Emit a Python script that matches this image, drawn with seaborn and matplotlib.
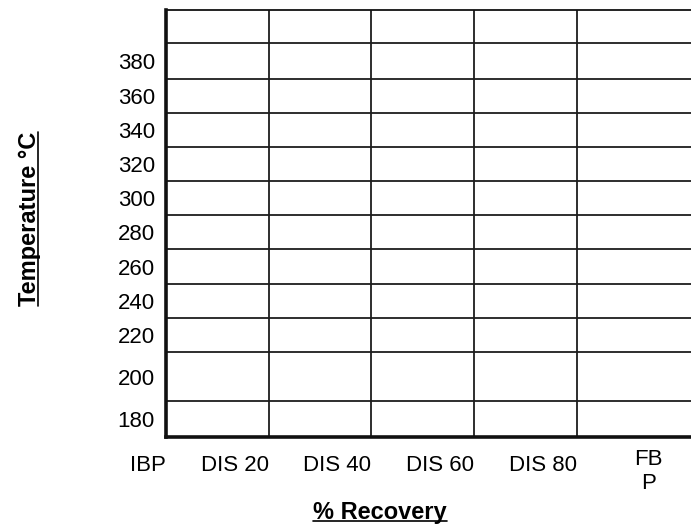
import matplotlib
matplotlib.use('Agg')
import matplotlib.pyplot as plt
from matplotlib.lines import Line2D
from matplotlib.transforms import ScaledTranslation
import seaborn as sns
import numpy as np

sns.set_theme(style='white')
plt.rcParams['font.family'] = ['Liberation Sans', 'DejaVu Sans']

# blank distillation recording sheet
recovery_labels = ['IBP', 'DIS 20', 'DIS 40', 'DIS 60', 'DIS 80', 'FB\nP']
temperature_labels = [180, 200, 220, 240, 260, 280, 300, 320, 340, 360, 380]

# row heights of the scanned grid, bottom to top (top row has no label)
row_heights = [1.05, 1.43, 1, 1, 1.02, 1, 1, 1, 1, 1, 1.05, 0.96]

fig = plt.figure(figsize=(6.91, 5.25), dpi=100)
ax = fig.add_axes([0.2402, 0.1676, 0.803, 0.8133])

edges = np.concatenate([[0], np.cumsum(row_heights)])
centers = (edges[:-1] + edges[1:]) / 2

ax.set_ylim(0, edges[-1])
ax.set_xlim(0, 5.4)

ax.set_yticks(centers[:len(temperature_labels)])
ax.set_yticklabels(temperature_labels, fontsize=16, color='black')
ax.set_yticks(edges[1:-1], minor=True)

ax.set_xticks(range(len(recovery_labels)))
ax.set_xticklabels(recovery_labels, fontsize=16, color='black',
                   ha='right', multialignment='center')

grid_style = dict(color='#1c1c1c', linewidth=1.3)
ax.grid(False)
ax.xaxis.grid(True, which='major', **grid_style)
ax.yaxis.grid(True, which='minor', **grid_style)
ax.tick_params(which='both', length=0)
ax.tick_params(axis='x', pad=13)
ax.tick_params(axis='y', pad=8)

# the sheet has no column line at FBP, and that label sits a bit left/higher
last_tick = ax.xaxis.get_major_ticks()[-1]
last_tick.gridline.set_visible(False)
fbp = ax.get_xticklabels()[-1]
fbp.set_ha('center')
fbp.set_transform(fbp.get_transform() + ScaledTranslation(-0.31, 0.06, fig.dpi_scale_trans))

sns.despine(ax=ax, right=True, top=False)
for side, lw in [('left', 2.6), ('bottom', 2.6), ('top', 1.3)]:
    ax.spines[side].set_color('#111111')
    ax.spines[side].set_linewidth(lw)

ax.set_xlabel('% Recovery', fontsize=17, fontweight='bold', color='black')
ax.set_ylabel('Temperature °C', fontsize=17, fontweight='bold', color='black')
ax.xaxis.set_label_coords(0.386, -0.150)
ax.yaxis.set_label_coords(-0.225, 0.510)

# underline the axis titles
fig.canvas.draw()
renderer = fig.canvas.get_renderer()
inv = fig.transFigure.inverted()

bb = ax.xaxis.label.get_window_extent(renderer)
(x0, y0), (x1, _) = inv.transform([(bb.x0, bb.y0 + 3), (bb.x1, bb.y0 + 3)])
fig.add_artist(Line2D([x0, x1], [y0, y0], color='black', linewidth=1.2))

bb = ax.yaxis.label.get_window_extent(renderer)
(x0, y0), (_, y1) = inv.transform([(bb.x1 - 3, bb.y0), (bb.x1 - 3, bb.y1)])
fig.add_artist(Line2D([x0, x0], [y0, y1], color='black', linewidth=1.2))

fig.savefig('out.png', dpi=100)
